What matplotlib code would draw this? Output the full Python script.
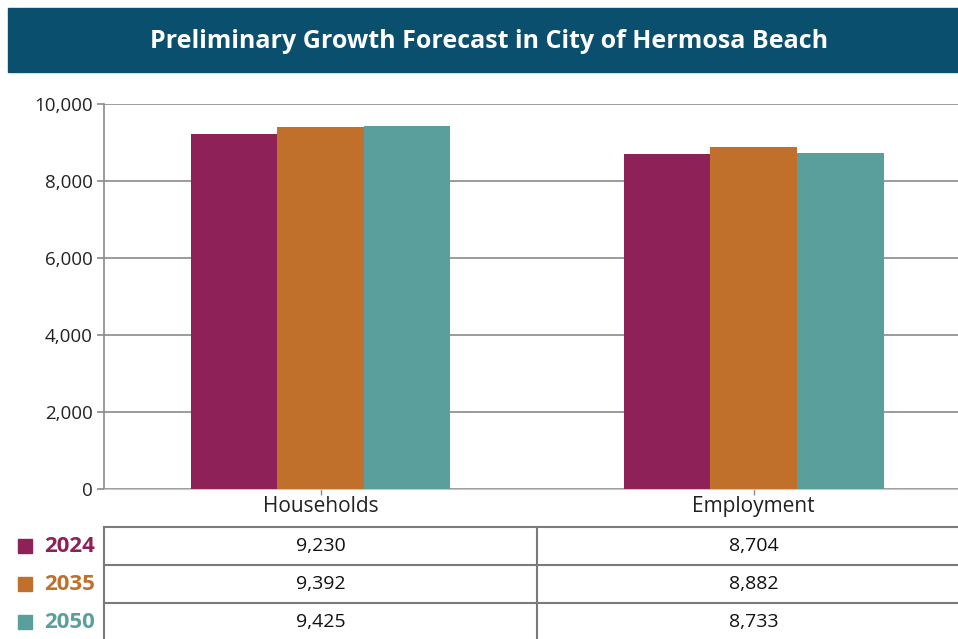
import matplotlib.pyplot as plt
from matplotlib.patches import Rectangle

plt.rcParams['font.family'] = ['Open Sans', 'DejaVu Sans']

# 数据
categories = ['Households', 'Employment']
years = ['2024', '2035', '2050']
values_2024 = [9230, 8704]
values_2035 = [9392, 8882]
values_2050 = [9425, 8733]
colors = ['#8E2258', '#C0702B', '#5A9F9C']
yticks = [0, 2000, 4000, 6000, 8000, 10000]

W, H = 958, 639
fig = plt.figure(figsize=(W / 100, H / 100), dpi=100)

def fx(px):
    return px / W

def fy(py):
    return 1 - py / H

# 标题栏
fig.patches.append(Rectangle((fx(8), fy(72)), fx(950), 64 / H,
                             transform=fig.transFigure, color='#0B4F6E', zorder=0))
fig.text(fx(489), fy(41), 'Preliminary Growth Forecast in City of Hermosa Beach',
         color='white', fontsize=18, fontweight='bold', ha='center', va='center')

# 柱状图
ax = fig.add_axes([fx(104), fy(489), fx(W - 104), (489 - 104) / H])
series = [values_2024, values_2035, values_2050]
bw = 0.2
for i, vals in enumerate(series):
    xs = [c + (i - 1) * bw for c in range(len(categories))]
    ax.bar(xs, vals, width=bw, color=colors[i], zorder=3)

ax.set_xlim(-0.5, 1.472)
ax.set_ylim(0, 10000)
ax.set_yticks(yticks)
ax.set_yticklabels([f'{v:,}' for v in yticks])
ax.set_xticks(range(len(categories)))
ax.set_xticklabels(categories)
ax.grid(axis='y', color='#8a8a8a', linewidth=1.2, zorder=0)
for s in ['top', 'right']:
    ax.spines[s].set_visible(False)
ax.spines['left'].set_color('#8a8a8a')
ax.spines['bottom'].set_color('#c8c8c8')
ax.spines['left'].set_linewidth(1.2)
ax.tick_params(axis='y', labelsize=13.5, colors='#8a8a8a', labelcolor='#222222',
               length=5, width=1.2, pad=3)
ax.tick_params(axis='x', labelsize=15, colors='#8a8a8a', labelcolor='#222222',
               length=4, width=1, pad=1)

# 数据表
tax = fig.add_axes([fx(104), 0, fx(W - 104), fy(527)])
tax.set_xlim(ax.get_xlim())
tax.set_ylim(112 / 38, 0)
tax.axis('off')
line_kw = dict(color='#7a7a7a', linewidth=1.5, clip_on=False)
for r in range(4):
    tax.plot([-0.5, 1.6], [r, r], **line_kw)
tax.plot([-0.5, -0.5], [0, 3], **line_kw)
tax.plot([0.5, 0.5], [0, 3], **line_kw)
for r, vals in enumerate(series):
    for c, v in enumerate(vals):
        tax.text(c, r + 0.5, f'{v:,}', ha='center', va='center',
                 fontsize=14, color='#111111')

# 图例
for r, (yr, col) in enumerate(zip(years, colors)):
    cy = 546 + r * 38
    fig.patches.append(Rectangle((fx(18), fy(cy + 7)), fx(14), 14 / H,
                                 transform=fig.transFigure, color=col))
    fig.text(fx(44), fy(cy), yr, color=col, fontsize=16, fontweight='bold',
             ha='left', va='center')

fig.savefig('out.png', dpi=100)
